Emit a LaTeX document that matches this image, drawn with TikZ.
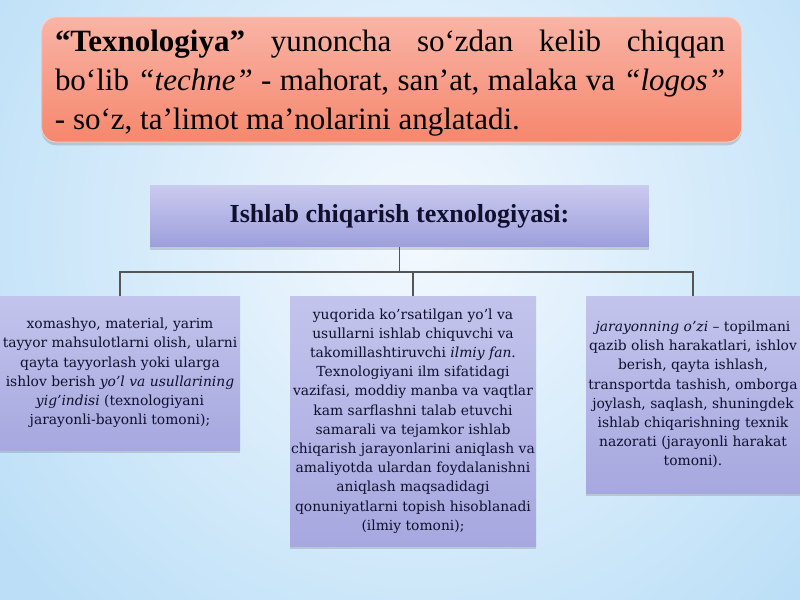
\documentclass[tikz,border=0pt]{standalone}
\usepackage{fontspec}
\setmainfont{Liberation Serif}
\newfontfamily\boxfont{DejaVu Serif}
\usetikzlibrary{shadows}
\definecolor{bgedge}{HTML}{BCDFF7}
\definecolor{bgmid}{HTML}{F4F9FE}
\definecolor{cortop}{HTML}{F9B4A6}
\definecolor{cormid}{HTML}{FD8D72}
\definecolor{corbot}{HTML}{F6876D}
\definecolor{lavtop}{HTML}{CACAEF}
\definecolor{lavbot}{HTML}{9D9FDC}
\definecolor{boxtop}{HTML}{C3C4EC}
\definecolor{boxbot}{HTML}{A6A8DF}
\definecolor{navytext}{HTML}{10102E}
\definecolor{linegray}{HTML}{555555}
\begin{document}
\begin{tikzpicture}[x=0.75pt,y=-0.75pt,
  softshadow/.style={drop shadow={shadow xshift=0pt,shadow yshift=-2.5pt,opacity=0.25,fill=black!60}},
  introbox/.style={shading=axis,top color=cortop,middle color=cormid,bottom color=corbot,
    rounded corners=11pt,draw=cortop!60!white,line width=0.6pt,softshadow,
    minimum width=525pt,minimum height=93.75pt,inner sep=0pt},
  introtextstyle/.style={text width=502.5pt,inner sep=0pt,align=justify,
    font=\fontsize{23.25}{29.25}\selectfont},
  headbox/.style={shading=axis,top color=lavtop,bottom color=lavbot,softshadow,
    minimum width=374pt,minimum height=45.5pt,inner sep=0pt,
    font=\fontsize{19.5}{23}\selectfont\bfseries,text=navytext},
  leafbox/.style={shading=axis,top color=boxtop,bottom color=boxbot,softshadow,
    inner sep=0pt,align=center,text=navytext,
    font=\boxfont\fontsize{10.4}{14.4}\selectfont},
  conn/.style={draw=linegray,line width=1.3pt}]
\useasboundingbox (0,0) rectangle (800,600);
% background
\fill[bgedge] (0,0) rectangle (800,600);
\begin{scope}
  \clip (0,0) rectangle (800,600);
  \shade[inner color=bgmid,outer color=bgedge] (420,230) circle (520);
\end{scope}
% top box
\node[introbox] (intro) at (391.7,79.5) {};
\node[introtextstyle] (introtext) at (390,83) {%
  \textbf{“Texnologiya”} yunoncha so‘zdan kelib chiqqan\linebreak
  bo‘lib \textit{“techne”} - mahorat, san’at, malaka va \textit{“logos”}\linebreak
  - so‘z, ta’limot ma’nolarini anglatadi.\par};
% title
\node[headbox] (head) at (399.5,216.3) {Ishlab chiqarish texnologiyasi:};
% leaves
\node[leafbox,minimum width=180pt,minimum height=115.5pt] (left) at (120,373)
  {xomashyo, material, yarim\\
   tayyor mahsulotlarni olish, ularni\\
   qayta tayyorlash yoki ularga\\
   ishlov berish \textit{yo’l va usullarining}\\
   \textit{yig’indisi} (texnologiyani\\
   jarayonli-bayonli tomoni);};
\node[leafbox,minimum width=184.5pt,minimum height=187.5pt] (mid) at (413,421)
  {yuqorida ko’rsatilgan yo’l va\\
   usullarni ishlab chiquvchi va\\
   takomillashtiruvchi \textit{ilmiy fan}.\\
   Texnologiyani ilm sifatidagi\\
   vazifasi, moddiy manba va vaqtlar\\
   kam sarflashni talab etuvchi\\
   samarali va tejamkor ishlab\\
   chiqarish jarayonlarini aniqlash va\\
   amaliyotda ulardan foydalanishni\\
   aniqlash maqsadidagi\\
   qonuniyatlarni topish hisoblanadi\\
   (ilmiy tomoni);};
\node[leafbox,minimum width=160.5pt,minimum height=147.75pt] (right) at (693,394.5)
  {\textit{jarayonning o’zi} – topilmani\\
   qazib olish harakatlari, ishlov\\
   berish, qayta ishlash,\\
   transportda tashish, omborga\\
   joylash, saqlash, shuningdek\\
   ishlab chiqarishning texnik\\
   nazorati (jarayonli harakat\\
   tomoni).};
% connectors
\coordinate (bar) at (399.5,271.7);
\draw[conn] (head.south) -- (bar);
\draw[conn] (left.north) |- (bar) -| (right.north);
\draw[conn] (mid.north) -- (mid.north |- bar);
\end{tikzpicture}
\end{document}
